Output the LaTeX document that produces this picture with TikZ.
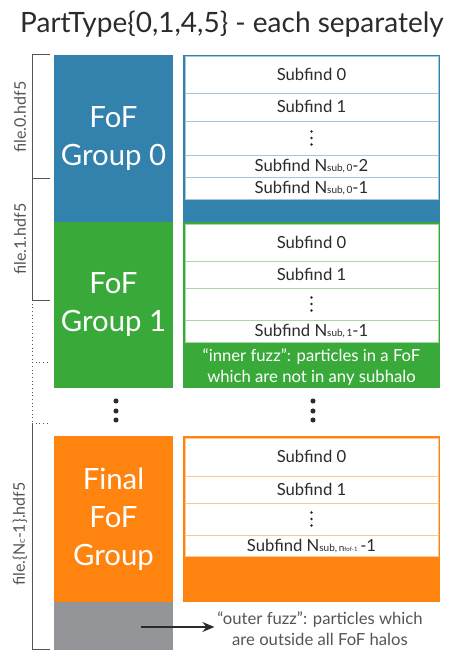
\documentclass[tikz,border=0pt]{standalone}
\usepackage{fontspec}
\setmainfont{Lato}
\usepackage{xcolor}
\definecolor{ink}{HTML}{2B2B2B}
\definecolor{dim}{HTML}{555555}
\definecolor{fofblue}{HTML}{3381AD}
\definecolor{fofgreen}{HTML}{39A93A}
\definecolor{foforange}{HTML}{FE830F}
\definecolor{fuzz}{HTML}{939598}
\usepackage{tikz}
\usetikzlibrary{arrows.meta, positioning}
\newcommand\nsub[1]{N{\fontsize{7.5}{7.5}\selectfont sub,\,#1}}
\tikzset{
  title/.style={font=\fontsize{21}{25}\selectfont, text=ink, anchor=base},
  grp/.style={anchor=north west, inner sep=0pt, outer sep=0pt, minimum width=119*0.75pt,
    align=center, text=white, font=\fontsize{22}{28.5}\selectfont},
  list/.style={anchor=north west, inner sep=0pt, outer sep=0pt, minimum width=257*0.75pt},
  sub/.style={anchor=north west, inner sep=0pt, outer sep=0pt, minimum width=253*0.75pt,
    fill=white, line width=0.75pt, text=ink, text height=8.5pt, text depth=0pt,
    font=\fontsize{12.5}{14}\selectfont},
  note/.style={align=center, inner sep=2pt, font=\fontsize{12.5}{15.5}\selectfont},
  filelbl/.style={rotate=90, text=dim, font=\fontsize{12}{14}\selectfont},
  bracket/.style={draw=dim, line width=0.75pt},
  pointer/.style={-{Stealth[length=9pt, width=7.5pt]}, line width=1.1pt, draw=ink},
}

\begin{document}
\begin{tikzpicture}[x=0.75pt, y=-0.75pt]
  \def\u{0.75pt}  % one pixel of the original
  \useasboundingbox (0,0) rectangle (457,667);

  \node[title] (title) at (232,33) {PartType\{0,1,4,5\} - each separately};

  % FoF groups on the left
  \node[grp, fill=fofblue, minimum height=167*\u] (fof0) at (54,55) {FoF\\Group 0};
  \node[grp, fill=fofgreen, minimum height=166*\u, below=0pt of fof0] (fof1) {FoF\\Group 1};
  \node[grp, fill=foforange, minimum height=166*\u] (foflast) at (54,436) {Final\\FoF\\Group};
  \node[grp, fill=fuzz, minimum height=48*\u, below=0pt of foflast] (outer) {};

  % Subfind lists on the right, group 0
  \node[list, fill=fofblue, minimum height=167*\u] (list0) at (183,55) {};
  \node[sub, draw=fofblue!45, minimum height=36*\u] (s0a) at (185,57) {Subfind 0};
  \node[sub, draw=fofblue!45, minimum height=28*\u, below=0pt of s0a] (s0b) {Subfind 1};
  \node[sub, draw=fofblue!45, minimum height=34*\u, below=0pt of s0b] (s0c) {};
  \node[sub, draw=fofblue!45, minimum height=22*\u, below=0pt of s0c] (s0d) {Subfind \nsub{0}-2};
  \node[sub, draw=fofblue!45, minimum height=22*\u, below=0pt of s0d] (s0e) {Subfind \nsub{0}-1};

  % group 1
  \node[list, fill=fofgreen, minimum height=166*\u] (list1) at (183,222) {};
  \node[sub, draw=fofgreen!45, minimum height=37*\u] (s1a) at (185,224) {Subfind 0};
  \node[sub, draw=fofgreen!45, minimum height=27*\u, below=0pt of s1a] (s1b) {Subfind 1};
  \node[sub, draw=fofgreen!45, minimum height=32*\u, below=0pt of s1b] (s1c) {};
  \node[sub, draw=fofgreen!45, minimum height=22*\u, below=0pt of s1c] (s1d) {Subfind \nsub{1}-1};
  \node[note, text=white] (inner) at (311.5,367)
    {“inner fuzz”: particles in a FoF\\which are not in any subhalo};

  % final group
  \node[list, fill=foforange, minimum height=166*\u] (listlast) at (183,436) {};
  \node[sub, draw=foforange!45, minimum height=38*\u] (sla) at (185,438) {Subfind 0};
  \node[sub, draw=foforange!45, minimum height=27*\u, below=0pt of sla] (slb) {Subfind 1};
  \node[sub, draw=foforange!45, minimum height=32*\u, below=0pt of slb] (slc) {};
  \node[sub, draw=foforange!45, minimum height=21*\u, below=0pt of slc] (sld)
    {Subfind N{\fontsize{7.5}{7.5}\selectfont sub,\,n{\fontsize{4.5}{4.5}\selectfont fof-1}}\,-1};

  \node[note, text=dim] (outertxt) at (320,628.5)
    {“outer fuzz”: particles which\\are outside all FoF halos};
  \coordinate (fuzzstart) at (141,627);
  \draw[pointer] (fuzzstart) -- (fuzzstart -| outertxt.west);

  % dots
  \foreach \r in {s0c, s1c, slc}
    \foreach \d in {-6.5, 0, 6.5}
      \fill[ink] ([yshift=\d*\u]\r.center) circle[radius=1.1pt];
  \foreach \y in {401, 411, 420} {
    \fill[ink] (116,\y) circle[radius=1.9pt];
    \fill[ink] (313,\y) circle[radius=1.9pt];
  }

  % file brackets
  \draw[bracket] (50,55) -- (32,55) -- (32,178) -- (50,178);
  \draw[bracket] (32,178) -- (32,300) -- (50,300);
  \draw[bracket, dotted] (32,300) -- (32,423);
  \draw[bracket, dotted] (32,362) -- (50,362);
  \draw[bracket, dotted] (32,423) -- (50,423);
  \draw[bracket] (32,423) -- (32,649) -- (50,649);
  \node[filelbl] (file0) at (20,117) {file.0.hdf5};
  \node[filelbl] (file1) at (20,239) {file.1.hdf5};
  \node[filelbl] (filelast) at (20,534) {file.\{N{\fontsize{7}{7}\selectfont c}-1\}.hdf5};
\end{tikzpicture}
\end{document}
